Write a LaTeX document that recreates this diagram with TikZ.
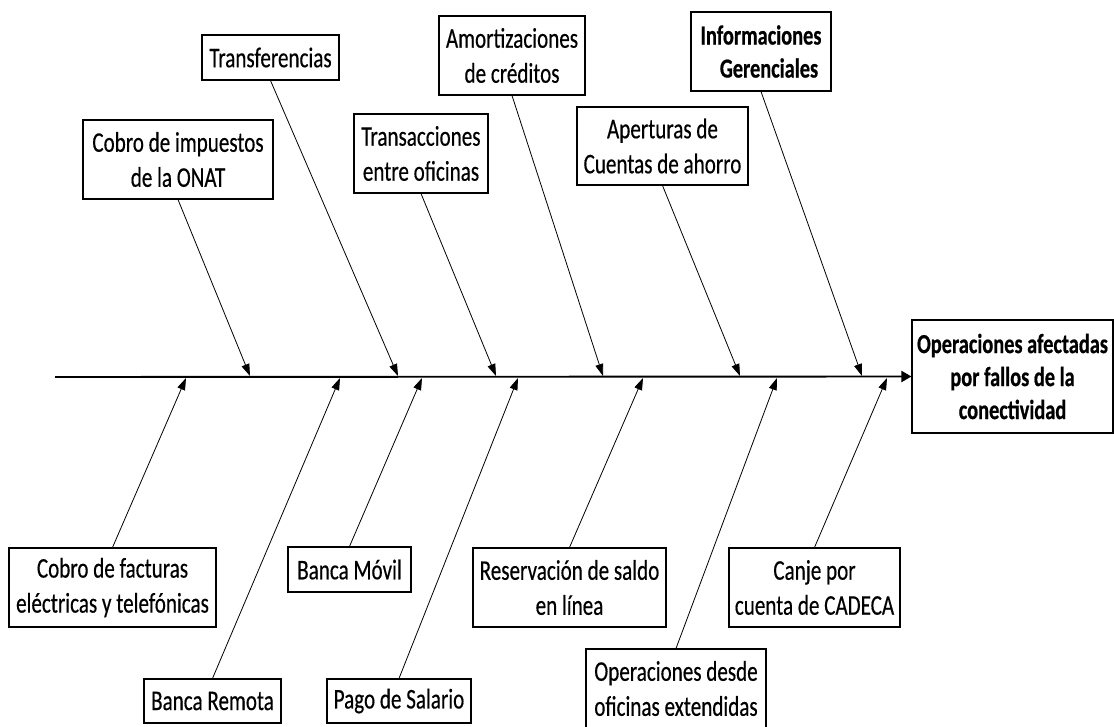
\documentclass[tikz,border=0pt]{standalone}
\usepackage{fontspec}
\setmainfont{Carlito}[FakeStretch=0.74,UprightFeatures={FakeBold=0.4},BoldFeatures={FakeBold=0.6}]
\usetikzlibrary{arrows.meta}
\begin{document}
\begin{tikzpicture}[x=1pt,y=-1pt,
  box/.style={draw=black,line width=1.1pt,fill=white,inner sep=0pt,align=center,
    font=\fontsize{28.5}{35}\selectfont},
  boldbox/.style={box,font=\fontsize{27.5}{33}\selectfont\bfseries},
  branch/.style={draw=black,line width=0.8pt,-{Triangle[length=12pt,width=8pt]}},
  spine/.style={draw=black,line width=1.9pt,-{Triangle[length=10pt,width=11pt]}}]
\path[fill=white] (0,0) rectangle (1114,727);
\useasboundingbox (0,0) rectangle (1114,727);

% effect
\node[boldbox,minimum width=201pt,minimum height=113pt] (effect) at (1012.5,376.5)
  {Operaciones afectadas\\por fallos de la\\conectividad};

% spine
\coordinate (tail) at (55,377);
\draw[spine] (tail) -- (effect.west);

% top causes
\node[box,minimum width=190pt,minimum height=79pt] (impuestos) at (178,159.5) {Cobro de impuestos\\de la ONAT};
\node[box,minimum width=137pt,minimum height=45pt] (transf) at (270.5,57.5) {Transferencias};
\node[box,minimum width=134pt,minimum height=79pt] (transac) at (421,153.5) {Transacciones\\entre oficinas};
\node[box,minimum width=146pt,minimum height=79pt] (amort) at (512,55.5) {Amortizaciones\\de créditos};
\node[box,minimum width=171pt,minimum height=78pt] (apert) at (662.5,146) {Aperturas de\\Cuentas de ahorro};
\node[boldbox,minimum width=140pt,minimum height=79pt] (inform) at (761,51.5) {Informaciones\\\hspace*{16pt}Gerenciales};

% bottom causes
\node[box,minimum width=207pt,minimum height=79pt] (facturas) at (112.5,587.5) {Cobro de facturas\\eléctricas y telefónicas};
\node[box,minimum width=123pt,minimum height=45pt] (movil) at (349.5,569.5) {Banca Móvil};
\node[box,minimum width=137pt,minimum height=44pt] (remota) at (212.5,701) {Banca Remota};
\node[box,minimum width=144pt,minimum height=44pt] (salario) at (399,701) {Pago de Salario};
\node[box,minimum width=193pt,minimum height=79pt] (reserv) at (569.5,587.5) {Reservación de saldo\\en línea};
\node[box,minimum width=180pt,minimum height=79pt] (oper) at (676,688.5) {Operaciones desde\\oficinas extendidas};
\node[box,minimum width=171pt,minimum height=79pt] (canje) at (814.5,587.5) {Canje por\\cuenta de CADECA};

% spine points
\coordinate (t1) at (250,376);
\coordinate (t2) at (398,376);
\coordinate (t3) at (496,376);
\coordinate (t4) at (603,376);
\coordinate (t5) at (740,376);
\coordinate (t6) at (862,376);
\coordinate (b1) at (186,378);
\coordinate (b2) at (340,378);
\coordinate (b3) at (422,378);
\coordinate (b4) at (518,378);
\coordinate (b5) at (643,378);
\coordinate (b6) at (777,378);
\coordinate (b7) at (887,378);

% branches
\draw[branch] (impuestos.south) -- (t1);
\draw[branch] (transf.south) -- (t2);
\draw[branch] (transac.south) -- (t3);
\draw[branch] (amort.south) -- (t4);
\draw[branch] (apert.south) -- (t5);
\draw[branch] (inform.south) -- (t6);
\draw[branch] (facturas.north) -- (b1);
\draw[branch] (remota.north) -- (b2);
\draw[branch] (movil.north) -- (b3);
\draw[branch] (salario.north) -- (b4);
\draw[branch] (reserv.north) -- (b5);
\draw[branch] (oper.north) -- (b6);
\draw[branch] (canje.north) -- (b7);
\end{tikzpicture}
\end{document}
